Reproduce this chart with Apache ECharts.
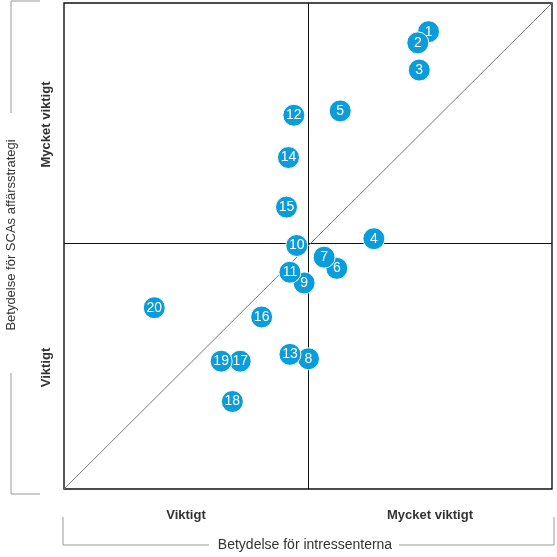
<!DOCTYPE html>
<html>
<head>
<meta charset="utf-8">
<script src="https://cdn.jsdelivr.net/npm/echarts@6/dist/echarts.min.js"></script>
<style>
  html, body { margin: 0; padding: 0; background: #fff; }
  #chart { width: 557px; height: 557px; }
</style>
</head>
<body>
<div id="chart"></div>
<script>
// Issue numbers and their position (stakeholders x, SCA strategy y), scale 0-10
const issueIds = ['1','2','3','4','5','6','7','8','9','10','11','12','13','14','15','16','17','18','19','20'];
const stakeholderScore = [7.47, 7.25, 7.28, 6.35, 5.66, 5.59, 5.33, 5.01, 4.92, 4.77, 4.63, 4.71, 4.63, 4.60, 4.56, 4.05, 3.61, 3.45, 3.22, 1.85];
const strategyScore    = [9.41, 9.18, 8.62, 5.15, 7.78, 4.54, 4.77, 2.68, 4.24, 5.01, 4.46, 7.69, 2.77, 6.82, 5.80, 3.54, 2.63, 1.80, 2.63, 3.73];

// Quadrant labels, placed at the middle of each half
const levelTicks = [2.5, 7.5];
const levelLabels = ['Viktigt', 'Mycket viktigt'];
const xTitle = 'Betydelse för intressenterna';
const yTitle = 'Betydelse för SCAs affärsstrategi';
const midX = 5, midY = 5.05;

const font = '"Liberation Sans", Arial, sans-serif';
const blue = '#0b9dd9';
const bracket = '#9a9a9a';

function levelLabel(v) {
    const i = levelTicks.indexOf(Math.round(v * 10) / 10);
    return i >= 0 ? levelLabels[i] : '';
}

const chart = echarts.init(document.getElementById('chart'), null, { renderer: 'canvas' });

const points = issueIds.map((id, i) => ({ name: id, value: [stakeholderScore[i], strategyScore[i]] }));

const option = {
    animation: false,
    backgroundColor: '#fff',
    grid: {
        left: 64, top: 2, width: 488, height: 487,
        show: true, borderColor: '#111', borderWidth: 1.4, backgroundColor: 'transparent'
    },
    xAxis: {
        type: 'value', min: 0, max: 10, interval: 2.5,
        axisLine: { show: false }, axisTick: { show: false }, splitLine: { show: false },
        axisLabel: {
            formatter: levelLabel, margin: 20, color: '#333',
            fontFamily: font, fontSize: 13, fontWeight: 'bold'
        }
    },
    yAxis: {
        type: 'value', min: 0, max: 10, interval: 2.5,
        axisLine: { show: false }, axisTick: { show: false }, splitLine: { show: false },
        axisLabel: {
            formatter: levelLabel, rotate: 90, margin: 11, color: '#333',
            fontFamily: font, fontSize: 13, fontWeight: 'bold'
        }
    },
    graphic: [
        // left bracket
        { type: 'polyline', shape: { points: [[40, 1], [11, 1], [11, 113]] }, style: { stroke: bracket, lineWidth: 1, fill: null } },
        { type: 'polyline', shape: { points: [[11, 373], [11, 494], [40, 494]] }, style: { stroke: bracket, lineWidth: 1, fill: null } },
        {
            type: 'text', x: 11, y: 235, rotation: Math.PI / 2,
            style: { text: yTitle, fill: '#333', font: '13px ' + font, align: 'center', verticalAlign: 'middle' }
        },
        // bottom bracket
        { type: 'polyline', shape: { points: [[63, 517], [63, 545], [209, 545]] }, style: { stroke: bracket, lineWidth: 1, fill: null } },
        { type: 'polyline', shape: { points: [[399, 545], [554, 545], [554, 517]] }, style: { stroke: bracket, lineWidth: 1, fill: null } },
        {
            type: 'text', x: 305, y: 545,
            style: { text: xTitle, fill: '#333', font: '14px ' + font, align: 'center', verticalAlign: 'middle' }
        }
    ],
    series: [{
        // quadrant dividers and diagonal, kept under the markers
        type: 'scatter',
        data: [],
        z: 1,
        markLine: {
            z: 1,
            silent: true, symbol: 'none', animation: false,
            label: { show: false },
            lineStyle: { type: 'solid' },
            data: [
                { xAxis: midX, lineStyle: { color: '#111', width: 1 } },
                { yAxis: midY, lineStyle: { color: '#111', width: 1 } },
                [{ coord: [0, 0], lineStyle: { color: '#777', width: 1 } }, { coord: [10, 10] }]
            ]
        }
    }, {
        type: 'scatter',
        data: points,
        symbolSize: 22,
        itemStyle: { color: blue, borderColor: '#fff', borderWidth: 1, opacity: 1 },
        label: {
            show: true, position: 'inside', formatter: '{b}',
            color: '#fff', fontFamily: font, fontSize: 14
        },
        z: 10
    }]
};

chart.setOption(option);
</script>
</body>
</html>
